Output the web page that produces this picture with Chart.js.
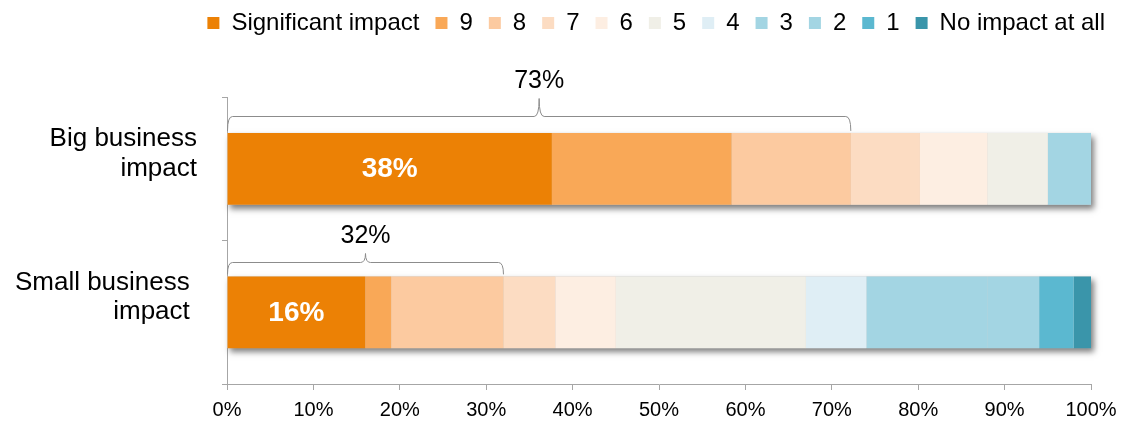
<!DOCTYPE html>
<html>
<head>
<meta charset="utf-8">
<script src="https://cdn.jsdelivr.net/npm/chart.js@4.4.0/dist/chart.umd.min.js"></script>
<style>
html,body{margin:0;padding:0;background:#fff;}
#wrap{width:1121px;height:426px;position:relative;}
</style>
</head>
<body>
<div id="wrap"><canvas id="c"></canvas></div>
<script>
// ---- data ----
const categories = [["Big business", "impact", ""], ["Small business ", "impact ", ""]];
const seriesNames = ["Significant impact", "9", "8", "7", "6", "5", "4", "3", "2", "1", "No impact at all"];
const seriesColors = ["#EC8105", "#F9A857", "#FCCAA0", "#FCDCC2", "#FDEEE2", "#F0EFE7", "#DFEEF5", "#A3D5E3", "#A3D5E3", "#5BB8D0", "#3A95AA"];
const bigBusiness = [37.6, 20.8, 13.8, 8.0, 7.8, 7.0, 0, 5.0, 0, 0, 0];
const smallBusiness = [16, 3, 13, 6, 7, 22, 7, 14, 6, 4, 2];
const xTickValues = [0, 10, 20, 30, 40, 50, 60, 70, 80, 90, 100];
const bracketLabels = ["73%", "32%"];
const bracketSeriesCount = 3; // Significant impact + 9 + 8

// ---- style ----
const FONT = '"Liberation Sans", Arial, Helvetica, sans-serif';
const bracketStyle = [{gap: 17, peak: 18}, {gap: 14, peak: 9}];

Chart.defaults.font.family = FONT;
Chart.defaults.color = '#000';

const rows = [bigBusiness, smallBusiness];
const datasets = seriesNames.map((name, s) => ({
  label: name,
  data: rows.map(r => r[s]),
  backgroundColor: seriesColors[s],
  borderWidth: 0,
  barPercentage: 0.5,
  categoryPercentage: 1.0
}));

const legendSpacer = {
  id: 'legendSpacer',
  beforeInit(chart) {
    const orig = chart.legend.fit;
    chart.legend.fit = function () {
      orig.call(this);
      this.height += 52;
    };
  }
};

const barShadow = {
  id: 'barShadow',
  beforeDatasetsDraw(chart) {
    const ctx = chart.ctx;
    const xs = chart.scales.x;
    const meta = chart.getDatasetMeta(0);
    meta.data.forEach((el) => {
      const x0 = xs.getPixelForValue(0);
      const x1 = xs.getPixelForValue(100);
      const h = el.height;
      ctx.save();
      ctx.shadowColor = 'rgba(0,0,0,0.5)';
      ctx.shadowBlur = 6;
      ctx.shadowOffsetX = 3;
      ctx.shadowOffsetY = 4;
      ctx.fillStyle = '#d0d0d0';
      ctx.fillRect(x0, el.y - h / 2, x1 - x0, h);
      ctx.restore();
    });
  }
};

const annotations = {
  id: 'annotations',
  afterDatasetsDraw(chart) {
    const ctx = chart.ctx;
    const xs = chart.scales.x;
    const meta = chart.getDatasetMeta(0);
    meta.data.forEach((el, i) => {
      const v = chart.data.datasets[0].data[i];
      ctx.save();
      ctx.fillStyle = '#fff';
      ctx.font = 'bold 28px ' + FONT;
      ctx.textAlign = 'center';
      ctx.textBaseline = 'middle';
      ctx.fillText(Math.round(v) + '%', (el.x + el.base) / 2, el.y + 1);
      ctx.restore();

      let sum = 0;
      for (let s = 0; s < bracketSeriesCount; s++) sum += chart.data.datasets[s].data[i];
      const x0 = xs.getPixelForValue(0) + 0.5;
      const x1 = xs.getPixelForValue(sum);
      const xm = (x0 + x1) / 2;
      const yTop = el.y - el.height / 2;
      const st = bracketStyle[i];
      const yLine = Math.round(yTop - st.gap) + 0.5;
      const yPeak = yLine - st.peak;
      const yEnd = yTop - 2;
      const r = 5;
      ctx.save();
      ctx.strokeStyle = '#8C8C8C';
      ctx.lineWidth = 1;
      ctx.beginPath();
      ctx.moveTo(x0, yEnd);
      ctx.quadraticCurveTo(x0, yLine, x0 + r, yLine);
      ctx.lineTo(xm - r, yLine);
      ctx.quadraticCurveTo(xm, yLine, xm, yPeak);
      ctx.quadraticCurveTo(xm, yLine, xm + r, yLine);
      ctx.lineTo(x1 - r, yLine);
      ctx.quadraticCurveTo(x1, yLine, x1, yEnd);
      ctx.stroke();
      ctx.fillStyle = '#000';
      ctx.font = '25px ' + FONT;
      ctx.textAlign = 'center';
      ctx.textBaseline = 'alphabetic';
      ctx.fillText(bracketLabels[i], xm, yPeak - 10.5);
      ctx.restore();
    });
  }
};

new Chart(document.getElementById('c'), {
  type: 'bar',
  data: { labels: categories, datasets },
  options: {
    indexAxis: 'y',
    responsive: true,
    maintainAspectRatio: false,
    animation: false,
    layout: { padding: { left: 0, right: 0, top: -5, bottom: 0 } },
    plugins: {
      legend: {
        position: 'top',
        align: 'end',
        labels: {
          boxWidth: 12,
          boxHeight: 12,
          padding: 16,
          color: '#000',
          font: { size: 24, family: FONT }
        }
      },
      tooltip: { enabled: false }
    },
    scales: {
      x: {
        stacked: true,
        min: 0,
        max: 100,
        afterBuildTicks(scale) { scale.ticks = xTickValues.map(v => ({ value: v })); },
        ticks: {
          callback: v => v + '%',
          font: { size: 20, family: FONT },
          color: '#000',
          padding: 8,
          maxRotation: 0
        },
        grid: { drawOnChartArea: false, tickLength: 6, color: '#A6A6A6' },
        border: { color: '#A6A6A6', width: 1 },
        afterFit(scale) { scale.height = 42; scale.paddingRight = 30; scale.paddingLeft = 0; }
      },
      y: {
        stacked: true,
        ticks: {
          font: { size: 26, family: FONT, lineHeight: 1.15 },
          color: '#000',
          padding: 25
        },
        grid: { drawOnChartArea: false, tickLength: 5, color: '#A6A6A6', offset: true },
        border: { color: '#A6A6A6', width: 1 },
        afterFit(scale) { scale.width = 227; scale.paddingTop = 0; scale.paddingBottom = 0; }
      }
    }
  },
  plugins: [legendSpacer, barShadow, annotations]
});
</script>
</body>
</html>
